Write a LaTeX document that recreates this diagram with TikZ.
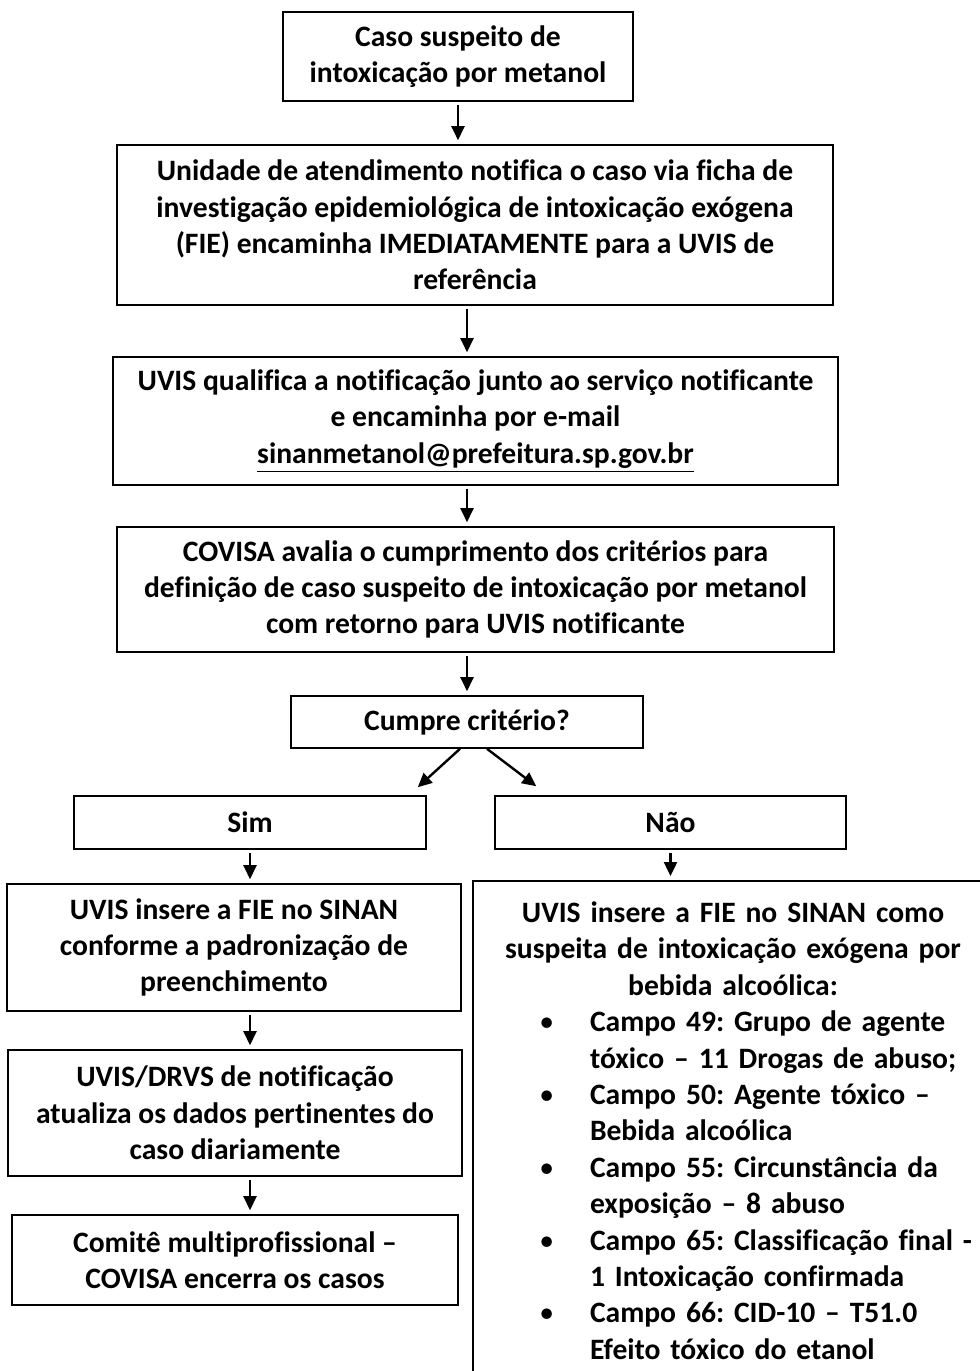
\documentclass[tikz,border=0pt]{standalone}
\usepackage{fontspec}
\setmainfont{Carlito}[Ligatures=NoCommon]
\usepackage{enumitem}
\usetikzlibrary{arrows.meta}
\frenchspacing

\begin{document}
\begin{tikzpicture}[x=0.5pt,y=-0.5pt,
        font=\fontsize{14.8}{18.2}\selectfont\bfseries,
        caixa/.style={draw, line width=0.8pt, align=center, inner sep=2pt},
        seta/.style={-{Triangle[width=6.5pt,length=7pt]}, line width=1.2pt, shorten <=1.5pt, shorten >=2pt}]
        \useasboundingbox (0,0) rectangle (980,1371);
        \clip (0,0) rectangle (980,1371);
        \node[caixa, minimum width=175pt, minimum height=44.5pt] (caso) at (458,56.5) {Caso suspeito de\\intoxicação por metanol};
        \node[caixa, minimum width=358pt, minimum height=80pt] (notif) at (475,225) {Unidade de atendimento notifica o caso via ficha de\\investigação epidemiológica de intoxicação exógena\\(FIE) encaminha IMEDIATAMENTE para a UVIS de\\referência};
        \node[caixa, minimum width=362.5pt, minimum height=64pt] (uvis) at (475.5,421) {UVIS qualifica a notificação junto ao serviço notificante\\e encaminha por e-mail\\\underline{sinanmetanol@prefeitura.sp.gov.br}};
        \node[caixa, minimum width=358.5pt, minimum height=62.5pt] (covisa) at (475.5,589.5) {COVISA avalia o cumprimento dos critérios para\\definição de caso suspeito de intoxicação por metanol\\com retorno para UVIS notificante};
        \node[caixa, minimum width=176pt, minimum height=26pt] (cumpre) at (467,722) {Cumpre critério?};
        \node[caixa, minimum width=176pt, minimum height=26.5pt] (sim) at (250,822.5) {Sim};
        \node[caixa, minimum width=175.5pt, minimum height=26.5pt] (nao) at (670.5,822.5) {Não};
        \node[caixa, minimum width=227pt, minimum height=63.5pt] (insere) at (234,947.5) {UVIS insere a FIE no SINAN\\conforme a padronização de\\preenchimento};
        \node[caixa, minimum width=227pt, minimum height=63pt] (atualiza) at (235,1113) {UVIS/DRVS de notificação\\atualiza os dados pertinentes do\\caso diariamente};
        \node[caixa, minimum width=223pt, minimum height=45pt] (comite) at (235,1260) {Comitê multiprofissional –\\COVISA encerra os casos};
        \node[caixa, anchor=north, text width=250pt, inner xsep=5pt, inner ysep=10.5pt, align=left] (sinan) at (733,880) {%
            {\centering UVIS insere a FIE no SINAN como\\suspeita de intoxicação exógena por\\bebida alcoólica:\par}
            \begin{itemize}[nosep, leftmargin=53.5pt, labelsep=18pt]
                \raggedright
                \item Campo 49: Grupo de agente\newline tóxico – 11 Drogas de abuso;
                \item Campo 50: Agente tóxico –\newline Bebida alcoólica
                \item Campo 55: Circunstância da\newline exposição – 8 abuso
                \item Campo 65: Classificação final -\newline 1 Intoxicação confirmada
                \item Campo 66: CID-10 – T51.0\newline Efeito tóxico do etanol\rule[-30pt]{0pt}{0pt}
            \end{itemize}};
        % fluxo principal
        \draw[seta] (caso.south) -- (caso.south |- notif.north);
        \draw[seta] (notif.south -| cumpre.north) -- (uvis.north -| cumpre.north);
        \draw[seta] (uvis.south -| cumpre.north) -- (covisa.north -| cumpre.north);
        \draw[seta] (cumpre.north |- covisa.south) -- (cumpre.north);
        \draw[seta, shorten <=0pt, shorten >=0pt] ([xshift=-3.5pt]cumpre.south) -- ([xshift=-4.5pt,yshift=4pt]sim.north east);
        \draw[seta, shorten <=0pt, shorten >=0pt] ([xshift=10pt]cumpre.south) -- ([xshift=21pt,yshift=4.5pt]nao.north west);
        % ramos
        \draw[seta] (sim.south) -- (sim.south |- insere.north);
        \draw[seta] (insere.south -| sim.south) -- (atualiza.north -| sim.south);
        \draw[seta] (atualiza.south -| sim.south) -- (comite.north -| sim.south);
        \draw[seta] (nao.south) -- (nao.south |- sinan.north);
    \end{tikzpicture}
\end{document}
